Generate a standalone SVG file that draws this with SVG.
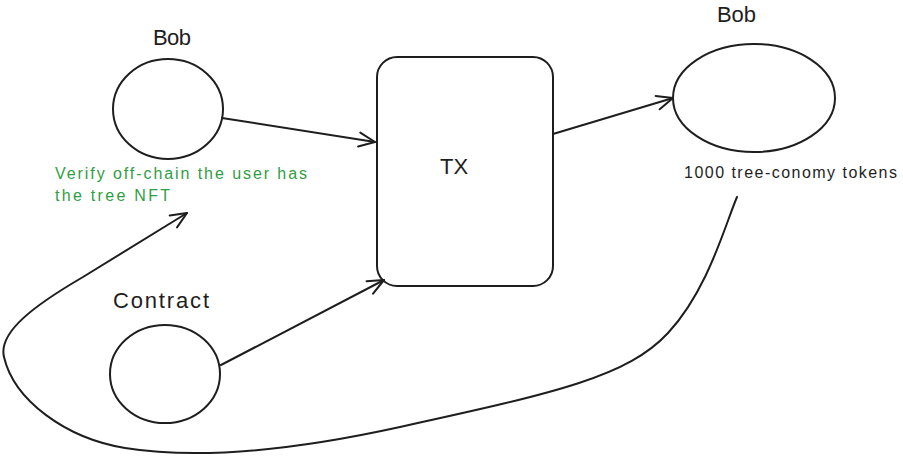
<svg xmlns="http://www.w3.org/2000/svg" width="903" height="469" viewBox="0 0 903 469">
  <defs>
    <style>
      .shape { fill: none; stroke: #1e1e1e; stroke-width: 2; stroke-linecap: round; stroke-linejoin: round; }
      .edge { fill: none; stroke: #1e1e1e; stroke-width: 2; stroke-linecap: round; stroke-linejoin: round; }
      .label { font-family: "Liberation Sans", "DejaVu Sans", sans-serif; fill: #1e1e1e; }
      .note { font-family: "Liberation Sans", "DejaVu Sans", sans-serif; fill: #2f9e44; font-size: 16px; }
    </style>
    <marker id="arrow" viewBox="0 0 20 20" refX="18" refY="10" markerWidth="20" markerHeight="20" markerUnits="userSpaceOnUse" orient="auto">
      <path d="M2,3 L18,10 L2,17" fill="none" stroke="#1e1e1e" stroke-width="2" stroke-linecap="round" stroke-linejoin="round"/>
    </marker>
  </defs>
  <rect width="903" height="469" fill="#ffffff"/>

  <g id="connectors">
    <path class="edge" d="M222,118 L375,142" marker-end="url(#arrow)"/>
    <path class="edge" d="M221,365 L384,280" marker-end="url(#arrow)"/>
    <path class="edge" d="M553,134 L673,98" marker-end="url(#arrow)"/>
    <path class="edge" d="M737,197 C725,225 708,290 668,333 C628,376 560,392 400,427 C300,449 200,460 125,448 C65,438 14,400 4,357 C-2,332 35,305 83,277 L187,213" marker-end="url(#arrow)"/>
  </g>

  <g id="bob-sender">
    <ellipse class="shape" cx="168" cy="109" rx="55" ry="50"/>
    <text class="label" x="153" y="45" font-size="22" textLength="38">Bob</text>
    <text class="note" x="55" y="179" textLength="252">Verify off-chain the user has</text>
    <text class="note" x="55" y="201" textLength="115">the tree NFT</text>
  </g>

  <g id="contract">
    <ellipse class="shape" cx="165" cy="374" rx="55" ry="49"/>
    <text class="label" x="113" y="308" font-size="22" textLength="96">Contract</text>
  </g>

  <g id="tx">
    <rect class="shape" x="377" y="57" width="176" height="229" rx="20" ry="20"/>
    <text class="label" x="454" y="174" font-size="22" text-anchor="middle">TX</text>
  </g>

  <g id="bob-receiver">
    <ellipse class="shape" cx="754" cy="98" rx="81" ry="54"/>
    <text class="label" x="717" y="22" font-size="22" textLength="39">Bob</text>
    <text class="label" x="684" y="178" font-size="16" textLength="213">1000 tree-conomy tokens</text>
  </g>
</svg>
